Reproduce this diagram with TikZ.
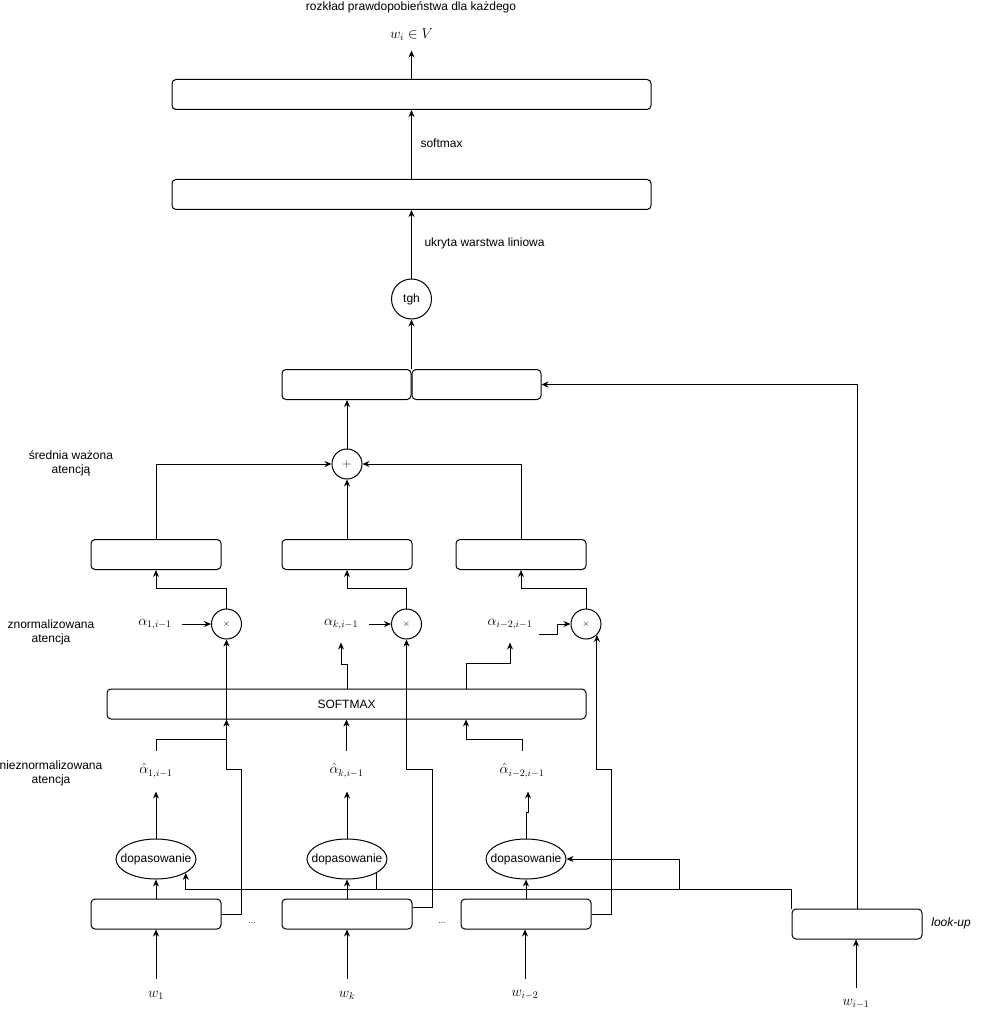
\documentclass[tikz,border=0pt]{standalone}
\usepackage{fontspec}
\setmainfont{Liberation Sans}
\usetikzlibrary{arrows.meta, shapes.geometric, calc, positioning}
\tikzset{
	warstwa/.style={
			draw=black,
			rounded corners=4pt,
			minimum width=130pt,
			minimum height=30pt,
			inner sep=0pt
		},
	szeroka/.style={
			warstwa,
			minimum width=479pt
		},
	kolko/.style={
			circle,
			draw=black,
			minimum size=30pt,
			inner sep=0pt
		},
	owal/.style={
			ellipse,
			draw=black,
			minimum width=80pt,
			minimum height=40pt,
			inner sep=0pt
		},
	wzor/.style={
			font=\fontsize{14}{16}\selectfont
		},
	wagi/.style={
			wzor,
			inner xsep=12pt,
			inner ysep=0pt,
			minimum height=36pt
		},
	wagidasz/.style={
			wzor,
			inner sep=0pt,
			minimum height=40pt
		},
	slowo/.style={
			wzor,
			inner sep=0pt,
			minimum height=32pt
		},
	opis/.style={
			inner sep=0pt,
			align=center
		}
}

\begin{document}
\begin{tikzpicture}[x=1pt, y=-1pt, line width=1pt, font=\fontsize{12}{14}\selectfont,
	>={Stealth[length=7pt,width=6pt]}]
\useasboundingbox (0,0) rectangle (982,1024);

\node[opis] (naglowek) at (411,7) {rozkład prawdopobieństwa dla każdego};
\node[wzor, inner sep=0pt, minimum height=30pt] (wyj) at (411.5,35) {$w_i \in V$};
\node[szeroka] (rozklad) at (411.5,94.5) {};
\node[szeroka] (ukryta) at (411.5,194.5) {};
\node[opis, anchor=west] (opisSm) at (420,143) {softmax};
\node[opis, anchor=west] (opisUk) at (424,243) {ukryta warstwa liniowa};
\node[kolko, minimum size=40pt] (tgh) at (411.5,299) {tgh};
\node[warstwa, minimum width=129pt] (kontL) at (346.5,384.5) {};
\node[warstwa, minimum width=129pt] (kontR) at (476.5,384.5) {};
\node[kolko] (suma) at (347,464) {$+$};
\node[opis] (opisSr) at (71,463) {średnia ważona\\atencją};

\node[warstwa] (srA) at (156,554.5) {};
\node[warstwa] (srB) at (347,554.5) {};
\node[warstwa] (srC) at (521,554.5) {};

\node[kolko] (ilo1) at (226.5,624) {\small$\times$};
\node[kolko] (ilo2) at (406.5,624) {\small$\times$};
\node[kolko] (ilo3) at (586,624) {\small$\times$};
\node[wagi, inner xsep=10pt] (al1) at (155,624) {$\alpha_{1,i-1}$};
\node[wagi, inner xsep=10pt] (al2) at (341,624) {$\alpha_{k,i-1}$};
\node[wagi] (al3) at (510,624) {$\alpha_{i-2,i-1}$};
\node[opis] (opisZn) at (51,632) {znormalizowana\\atencja};

\node[szeroka] (sm) at (346.5,704) {SOFTMAX};
\coordinate (r3) at (466,704);

\node[wagidasz] (ah1) at (156,771) {$\hat\alpha_{1,i-1}$};
\node[wagidasz] (ah2) at (346.5,771) {$\hat\alpha_{k,i-1}$};
\node[wagidasz] (ah3) at (522,771) {$\hat\alpha_{i-2,i-1}$};
\node[opis] (opisNz) at (51,773) {nieznormalizowana\\atencja};

\node[owal] (dop1) at (156,859) {\makebox[0pt]{dopasowanie}};
\node[owal] (dop2) at (347,859) {\makebox[0pt]{dopasowanie}};
\node[owal] (dop3) at (526,859) {\makebox[0pt]{dopasowanie}};

\node[warstwa] (we1) at (156,914) {};
\node[warstwa] (we2) at (347,914) {};
\node[warstwa] (we3) at (526,914) {};
\node[warstwa] (lk) at (857,924) {};
\node[opis] (opisLk) at (951,923) {\textit{look-up}};
\node[opis] (kr1) at (252,923) {\footnotesize...};
\node[opis] (kr2) at (442,923) {\footnotesize...};

\node[slowo] (s1) at (156,995) {$w_1$};
\node[slowo] (s2) at (347,995) {$w_k$};
\node[slowo] (s3) at (525,995) {$w_{i-2}$};
\node[slowo] (s4) at (856,1004) {$w_{i-1}$};

\coordinate (k1) at (241,769);
\coordinate (k2) at (432,769);
\coordinate (k3) at (611,769);
\coordinate (rozg) at (679,889);

\draw[->] (rozklad.north) -- (wyj.south);
\draw[->] (ukryta.north) -- (rozklad.south);
\draw[->] (tgh.north) -- (tgh.north |- ukryta.south);
\draw[->] (kontL.north east) -- (kontL.north east |- tgh.south);
\draw[->] (suma.north) -- (suma.north |- kontL.south);
\draw[->] (lk.north) |- (kontR.east);

\draw[->] (srA.north) |- (suma.west);
\draw[->] (srB.north) -- (suma.south);
\draw[->] (srC.north) |- (suma.east);

\draw[->] (ilo1.north) -- ++(0,-20) -| (srA.south);
\draw[->] (ilo2.north) -- ++(0,-20) -| (srB.south);
\draw[->] (ilo3.north) -- ++(0,-20) -| (srC.south);
\draw[->] (al1) -- (ilo1);
\draw[->] (al2) -- (ilo2);
\draw[->] ([shift={(-6,10)}]al3.east) -- ++(19,0) |- (ilo3.west);

\draw[->] (sm.north -| srB) -- ++(0,-24) -| (al2.south);
\draw[->] (r3 |- sm.north) -- ++(0,-25) -| (al3.south);
\draw[->] (ah1.north) -- ++(0,-11) -| (ilo1 |- sm.south);
\draw[->] (ah2.north) -- (ah2.north |- sm.south);
\draw[->] (ah3.north) -- ++(0,-11) -| (r3 |- sm.south);

\draw[->] (dop1.north) -- (ah1.south);
\draw[->] (dop2.north) -- (dop2.north |- ah2.south);
\draw[->] (dop3.north) -- ++(0,-26) -| ([xshift=6pt]ah3.south);

\draw[->] (we1.north) -- (dop1.south);
\draw[->] (we2.north) -- (dop2.south);
\draw[->] (we3.north) -- (dop3.south);
\draw[->] (s1.north) -- (we1.south);
\draw[->] (s2.north) -- (we2.south);
\draw[->] (s3.north) -- (s3.north |- we3.south);
\draw[->] (s4.north) -- (s4.north |- lk.south);

\draw[->] (we1.east) -| (k1) -| (ilo1.south);
\draw[->] ([yshift=7pt]we2.east) -| (k2) -| (ilo2.south);
\draw[->] (we3.east) -| (k3) -| (ilo3.-45);

\draw[->] (lk.north west) -- (lk.north west |- rozg) -| (dop1.-25);
\draw (dop2.-25 |- rozg) -- (dop2.-25);
\draw[->] (rozg) |- (dop3.east);

\end{tikzpicture}
\end{document}
